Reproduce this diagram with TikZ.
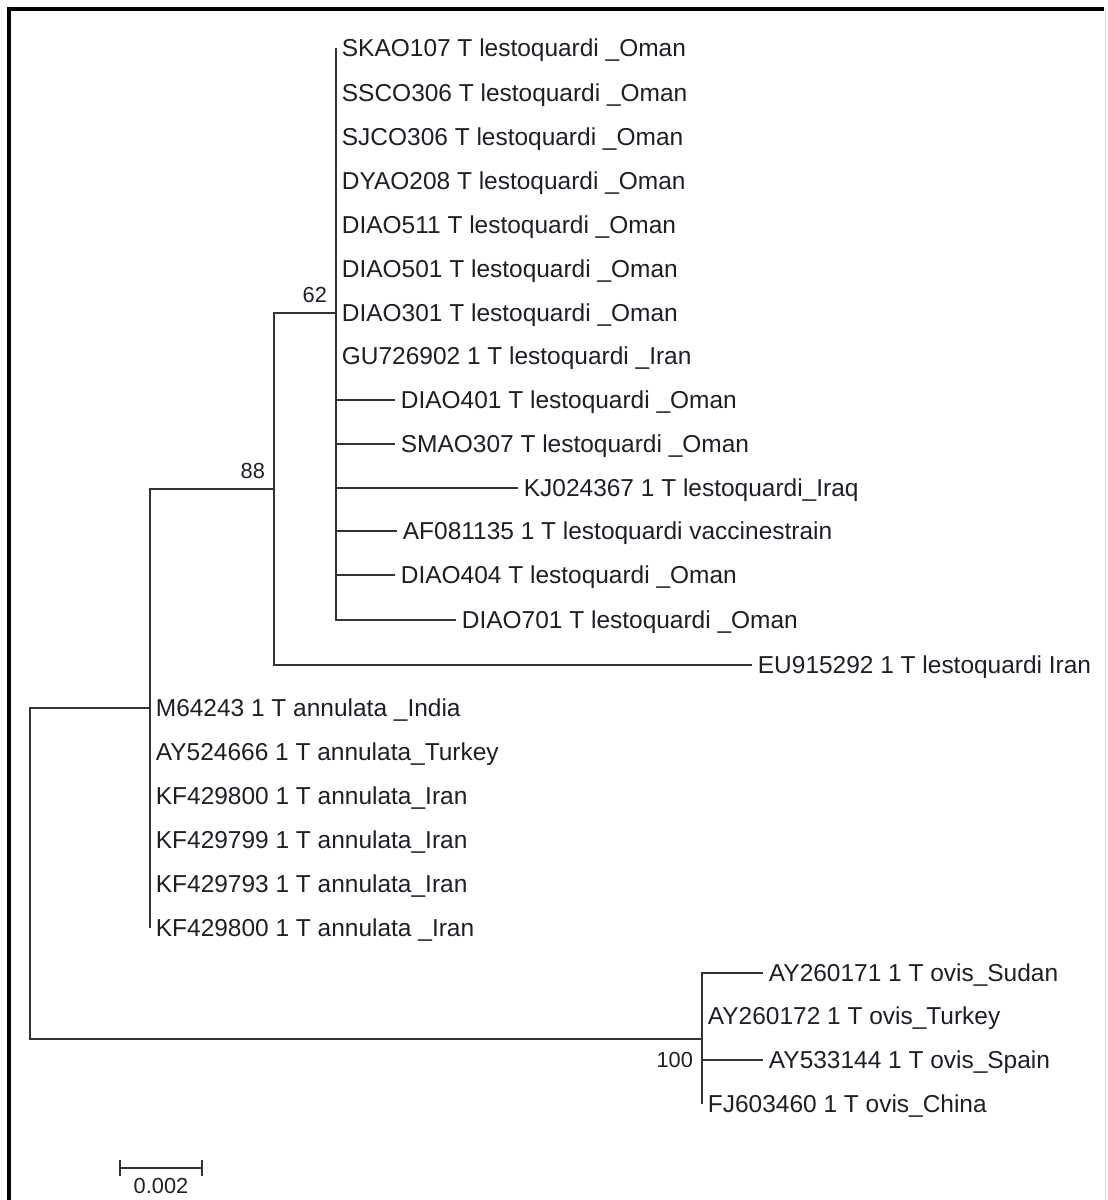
\documentclass[tikz,border=0pt]{standalone}
\usepackage{fontspec}
\setmainfont{Liberation Sans}
\definecolor{treeline}{HTML}{333333}
\definecolor{labeltext}{HTML}{1E1E28}
\begin{document}
\begin{tikzpicture}[x=0.025cm,y=-0.025cm,
  br/.style={line width=1.3pt, draw=treeline},
  leaf/.style={anchor=west, inner xsep=4pt, inner ysep=0pt, text height=0.425cm, text depth=0pt,
    font=\fontsize{17.4}{20}\selectfont, text=labeltext},
  boot/.style={inner sep=0pt, font=\fontsize{15.5}{18}\selectfont, text=labeltext}]
    \useasboundingbox (0,0) rectangle (1107,1200);
    \draw[line width=2.2pt] (9,1200)--(9,9)--(1104,9);
    \draw[black!15, line width=0.6pt] (1105,9)--(1105,1200);
    \coordinate (root) at (30,870);
    \coordinate (nC) at (150,708);
    \coordinate (nB) at (274,489);
    \coordinate (nA) at (336,313);
    \coordinate (nD) at (702,1039);
    \draw[br] (nC)-|(root);
    \draw[br] (nD)-|(root);
    \draw[br] (nB)-|(nC);
    \draw[br] (nA)-|(nB);
    \foreach \x/\y/\t [count=\i] in {336/48/SKAO107 T lestoquardi \_Oman, 336/93/SSCO306 T lestoquardi \_Oman,
        336/137/SJCO306 T lestoquardi \_Oman, 336/181/DYAO208 T lestoquardi \_Oman,
        336/225/DIAO511 T lestoquardi \_Oman, 336/269/DIAO501 T lestoquardi \_Oman,
        336/313/DIAO301 T lestoquardi \_Oman, 336/356/GU726902 1 T lestoquardi \_Iran,
        395/400/DIAO401 T lestoquardi \_Oman, 395/444/SMAO307 T lestoquardi \_Oman,
        518/488/KJ024367 1 T lestoquardi\_Iraq, 397/531/AF081135 1 T lestoquardi vaccinestrain,
        395/575/DIAO404 T lestoquardi \_Oman, 456/620/DIAO701 T lestoquardi \_Oman} {
        \node[leaf] (lq\i) at (\x,\y) {\t};
        \draw[br] (lq\i.west)-|(nA);
    }
    \node[leaf] (eu) at (752,665) {EU915292 1 T lestoquardi Iran};
    \draw[br] (eu.west)-|(nB);
    \foreach \y/\t [count=\i] in {708/M64243 1 T annulata \_India, 752/AY524666 1 T annulata\_Turkey,
        796/KF429800 1 T annulata\_Iran, 840/KF429799 1 T annulata\_Iran,
        884/KF429793 1 T annulata\_Iran, 928/KF429800 1 T annulata \_Iran} {
        \node[leaf] (an\i) at (150,\y) {\t};
        \draw[br] (an\i.west)-|(nC);
    }
    \foreach \x/\y/\t [count=\i] in {763/973/AY260171 1 T ovis\_Sudan, 702/1016/AY260172 1 T ovis\_Turkey,
        763/1060/AY533144 1 T ovis\_Spain, 702/1104/FJ603460 1 T ovis\_China} {
        \node[leaf] (ov\i) at (\x,\y) {\t};
        \draw[br] (ov\i.west)-|(nD);
    }
    \node[boot, anchor=south east] (b62) at ([xshift=-0.22cm,yshift=0.25cm]nA) {62};
    \node[boot, anchor=south east] (b88) at ([xshift=-0.22cm,yshift=0.25cm]nB) {88};
    \node[boot, anchor=north east] (b100) at ([xshift=-0.22cm,yshift=-0.32cm]nD) {100};
    \coordinate (sl) at (120,1168);
    \coordinate (sr) at (202,1168);
    \coordinate (sm) at (161,1168);
    \draw[br] ([yshift=0.2cm]sl)--([yshift=-0.2cm]sl) (sl)--(sr) ([yshift=0.2cm]sr)--([yshift=-0.2cm]sr);
    \node[boot, anchor=north] (sc) at ([yshift=-0.25cm]sm) {0.002};
\end{tikzpicture}
\end{document}
